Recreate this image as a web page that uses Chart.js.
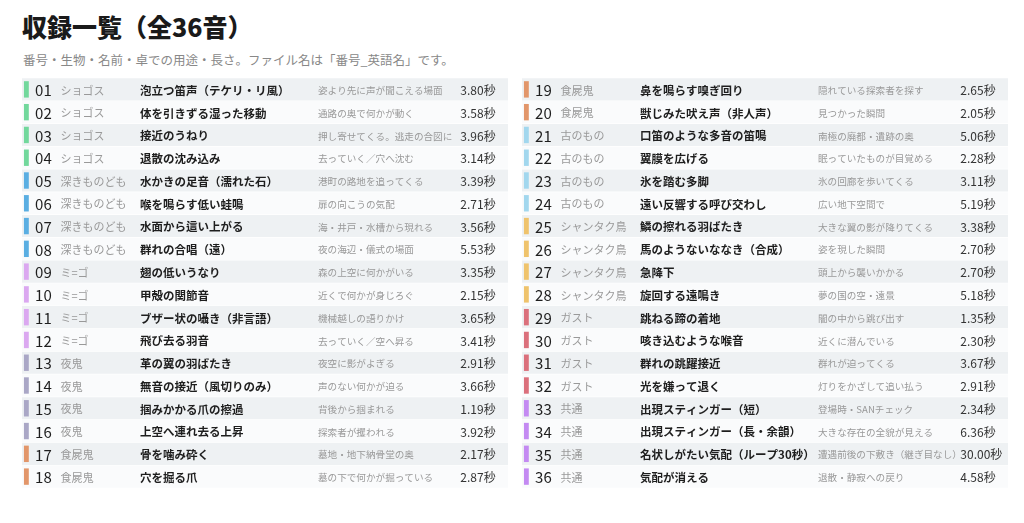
<!DOCTYPE html>
<html><head><meta charset="utf-8">
<script src="https://cdn.jsdelivr.net/npm/chart.js@4"></script>
<style>
body{margin:0;background:#fff;font-family:"Noto Sans CJK JP",sans-serif;width:1024px;height:523px;overflow:hidden;position:relative}
h1{position:absolute;left:22px;top:8px;margin:0;font-size:25px;font-weight:900;color:#1a1a1a}
p.sub{position:absolute;left:23px;top:50px;margin:0;font-size:12.5px;color:#888}
.wrap{position:absolute;top:78px;width:486px;height:410px}
</style></head><body>
<h1>収録一覧（全36音）</h1>
<p class="sub">番号・生物・名前・卓での用途・長さ。ファイル名は「番号_英語名」です。</p>
<div class="wrap" style="left:22px"><canvas id="left"></canvas></div>
<div class="wrap" style="left:522px"><canvas id="right"></canvas></div>
<script>
const ids = ['01','02','03','04','05','06','07','08','09','10','11','12','13','14','15','16','17','18',
  '19','20','21','22','23','24','25','26','27','28','29','30','31','32','33','34','35','36'];
const creatures = ['ショゴス','ショゴス','ショゴス','ショゴス','深きものども','深きものども','深きものども','深きものども',
  'ミ=ゴ','ミ=ゴ','ミ=ゴ','ミ=ゴ','夜鬼','夜鬼','夜鬼','夜鬼','食屍鬼','食屍鬼','食屍鬼','食屍鬼',
  '古のもの','古のもの','古のもの','古のもの','シャンタク鳥','シャンタク鳥','シャンタク鳥','シャンタク鳥',
  'ガスト','ガスト','ガスト','ガスト','共通','共通','共通','共通'];
const titles = ['泡立つ笛声（テケリ・リ風）','体を引きずる湿った移動','接近のうねり','退散の沈み込み',
  '水かきの足音（濡れた石）','喉を鳴らす低い蛙鳴','水面から這い上がる','群れの合唱（遠）',
  '翅の低いうなり','甲殻の関節音','ブザー状の囁き（非言語）','飛び去る羽音',
  '革の翼の羽ばたき','無音の接近（風切りのみ）','掴みかかる爪の擦過','上空へ連れ去る上昇',
  '骨を噛み砕く','穴を掘る爪','鼻を鳴らす嗅ぎ回り','獣じみた吠え声（非人声）',
  '口笛のような多音の笛鳴','翼膜を広げる','氷を踏む多脚','遠い反響する呼び交わし',
  '鱗の擦れる羽ばたき','馬のようないななき（合成）','急降下','旋回する遠鳴き',
  '跳ねる蹄の着地','咳き込むような喉音','群れの跳躍接近','光を嫌って退く',
  '出現スティンガー（短）','出現スティンガー（長・余韻）','名状しがたい気配（ループ30秒）','気配が消える'];
const uses = ['姿より先に声が聞こえる場面','通路の奥で何かが動く','押し寄せてくる。逃走の合図に','去っていく／穴へ沈む',
  '港町の路地を追ってくる','扉の向こうの気配','海・井戸・水槽から現れる','夜の海辺・儀式の場面',
  '森の上空に何かがいる','近くで何かが身じろぐ','機械越しの語りかけ','去っていく／空へ昇る',
  '夜空に影がよぎる','声のない何かが迫る','背後から掴まれる','探索者が攫われる',
  '墓地・地下納骨堂の奥','墓の下で何かが掘っている','隠れている探索者を探す','見つかった瞬間',
  '南極の廃都・遺跡の奥','眠っていたものが目覚める','氷の回廊を歩いてくる','広い地下空間で',
  '大きな翼の影が降りてくる','姿を現した瞬間','頭上から襲いかかる','夢の国の空・遠景',
  '闇の中から跳び出す','近くに潜んでいる','群れが迫ってくる','灯りをかざして追い払う',
  '登場時・SANチェック','大きな存在の全貌が見える','遭遇前後の下敷き（継ぎ目なし）','退散・静寂への戻り'];
const seconds = [3.80,3.58,3.96,3.14,3.39,2.71,3.56,5.53,3.35,2.15,3.65,3.41,2.91,3.66,1.19,3.92,2.17,2.87,
  2.65,2.05,5.06,2.28,3.11,5.19,3.38,2.70,2.70,5.18,1.35,2.30,3.67,2.91,2.34,6.36,30.00,4.58];
const groupColors = {'ショゴス':'#72d89c','深きものども':'#5aaee2','ミ=ゴ':'#dba8f0','夜鬼':'#aaa7c6','食屍鬼':'#e2966a',
  '古のもの':'#a2d7ee','シャンタク鳥':'#efc36c','ガスト':'#db707c','共通':'#c48af2'};

const textPlugin = {
  id: 'rowText',
  afterDatasetsDraw(chart) {
    const {ctx, scales: {x, y}} = chart;
    const off = chart.options.plugins.rowText.offset;
    ctx.save();
    ctx.textBaseline = 'middle';
    ctx.textAlign = 'left';
    chart.data.labels.forEach((id, i) => {
      const k = off + i;
      const py = y.getPixelForValue(i) + 1;
      ctx.fillStyle = '#1e1e1e';
      ctx.font = '15px "Noto Sans CJK JP"';
      ctx.fillText(id, x.getPixelForValue(2.7), py);
      ctx.fillStyle = '#999';
      ctx.font = '11px "Noto Sans CJK JP"';
      ctx.fillText(creatures[k], x.getPixelForValue(7.9), py);
      ctx.fillStyle = '#1e1e1e';
      ctx.font = 'bold 11.5px "Noto Sans CJK JP"';
      ctx.fillText(titles[k], x.getPixelForValue(24.3), py);
      ctx.fillStyle = '#999';
      ctx.font = '9.6px "Noto Sans CJK JP"';
      ctx.fillText(uses[k], x.getPixelForValue(60.9), py);
      ctx.fillStyle = '#333';
      ctx.font = '12px "Noto Sans CJK JP"';
      ctx.fillText(seconds[k].toFixed(2) + '秒', x.getPixelForValue(90.2), py);
    });
    ctx.restore();
  }
};

function makeTable(canvasId, offset) {
  const labels = ids.slice(offset, offset + 18);
  new Chart(document.getElementById(canvasId), {
    type: 'bar',
    data: {
      labels,
      datasets: [
        {
          data: labels.map(() => [0, 100]),
          backgroundColor: labels.map((_, i) => i % 2 === 0 ? '#eef1f3' : '#fafbfc'),
          barPercentage: 1, categoryPercentage: 0.97, grouped: false, order: 2
        },
        {
          data: labels.map(() => [0.4, 1.4]),
          backgroundColor: labels.map((_, i) => groupColors[creatures[offset + i]]),
          barPercentage: 0.72, categoryPercentage: 1, grouped: false, order: 1
        }
      ]
    },
    options: {
      indexAxis: 'y',
      responsive: true, maintainAspectRatio: false, animation: false,
      layout: {padding: 0},
      scales: {
        x: {display: false, min: 0, max: 100},
        y: {display: false}
      },
      plugins: {legend: {display: false}, tooltip: {enabled: false}, rowText: {offset}}
    },
    plugins: [textPlugin]
  });
}
makeTable('left', 0);
makeTable('right', 18);
</script>
</body></html>
